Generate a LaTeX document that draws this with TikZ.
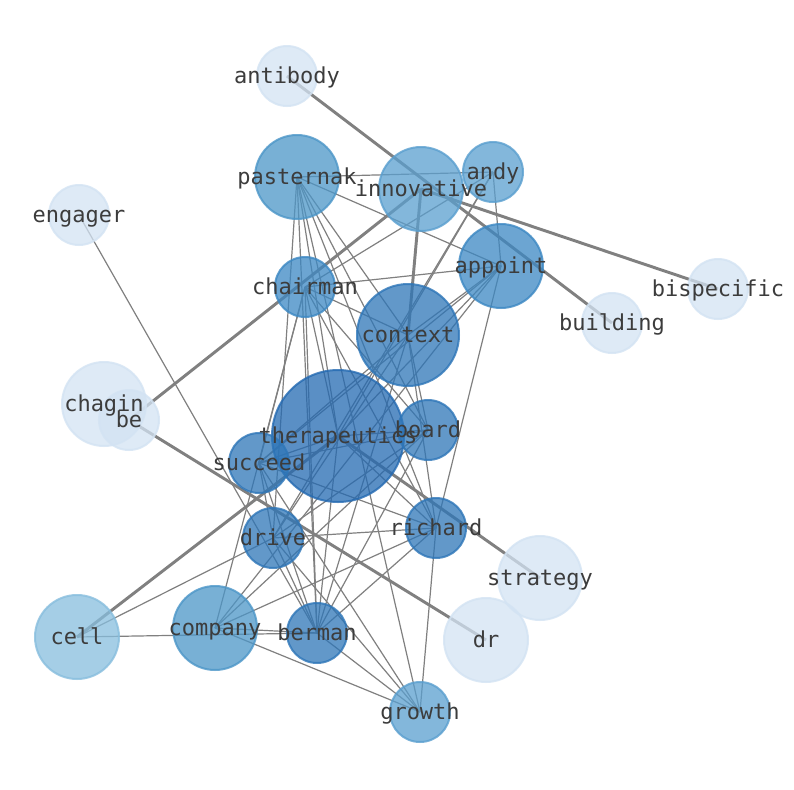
\documentclass[tikz,border=0pt]{standalone}
\usepackage{fontspec}
\setmonofont{DejaVu Sans Mono}
\usetikzlibrary{backgrounds}
\definecolor{c5}{HTML}{246AB2}
\definecolor{c4}{HTML}{2E76B8}
\definecolor{c3}{HTML}{3C88C3}
\definecolor{c2}{HTML}{4C96C8}
\definecolor{c1}{HTML}{5A9FCF}
\definecolor{cc}{HTML}{88BEDE}
\definecolor{cl}{HTML}{D3E3F3}
\definecolor{lblgray}{HTML}{3C3C3C}
\tikzset{
  n/.style={circle, inner sep=0, line width=1.5pt, fill opacity=0.75, draw opacity=0.8},
  s30/.style={minimum size=45pt},
  s42/.style={minimum size=63pt},
  s51/.style={minimum size=76.5pt},
  s66/.style={minimum size=99pt},
  w/.style={draw=gray, line width=0.9pt},
  ww/.style={draw=gray, line width=2.2pt},
  lbl/.style={anchor=base, inner sep=0, text=lblgray, font=\fontsize{16.5}{18}\selectfont\ttfamily}
}

\begin{document}
\begin{tikzpicture}[x=0.75pt, y=-0.75pt]
    \useasboundingbox (0,0) rectangle (794,790);
    % word nodes: name/x/y/radius/colour
    \foreach \name/\x/\y/\r/\col in {
      antibody/287/76/30/cl, pasternak/297/177/42/c2, innovative/421/189/42/c1,
      andy/493/172/30/c1, engager/79/215/30/cl, appoint/501/266/42/c3,
      chairman/305/287/30/c3, bispecific/718/289/30/cl, building/612/323/30/cl,
      context/408/335/51/c4, chagin/104/404/42/cl, be/129/420/30/cl,
      therapeutics/338/436/66/c5, board/428/430/30/c4, succeed/259/463/30/c4,
      richard/436/528/30/c4, drive/273/538/30/c4, strategy/540/578/42/cl,
      cell/77/637/42/cc, company/215/628/42/c2, berman/317/633/30/c4,
      dr/486/640/42/cl, growth/420/712/30/c1}
    {
      \node[n, s\r, fill=\col, draw=\col](\name) at (\x, \y) {};
    }

    \begin{pgfonlayer}{background}
      \fill[white] (0,0) rectangle (794,790);
      \foreach \a/\b in {
        pasternak/andy, pasternak/appoint, pasternak/context, pasternak/board,
        pasternak/richard, pasternak/therapeutics, pasternak/berman, pasternak/drive,
        pasternak/growth, andy/chairman, andy/appoint, andy/therapeutics, andy/drive,
        chairman/appoint, chairman/context, chairman/succeed, chairman/company,
        chairman/therapeutics, chairman/berman, chairman/richard, chairman/board,
        appoint/context, appoint/therapeutics, appoint/succeed, appoint/company,
        appoint/richard, context/board, context/richard, context/succeed,
        context/drive, context/berman, therapeutics/board, therapeutics/succeed,
        therapeutics/richard, therapeutics/berman, board/succeed, board/drive,
        board/company, board/berman, succeed/drive, succeed/berman, succeed/growth,
        succeed/richard, drive/richard, drive/berman, drive/growth, richard/company,
        richard/berman, richard/growth, company/berman, company/growth,
        berman/growth, cell/drive, cell/berman, engager/berman}
      {
        \draw[w] (\a.center) -- (\b.center);
      }
      \foreach \a/\b in {
        antibody/building, innovative/bispecific, be/innovative, be/dr,
        cell/therapeutics, therapeutics/strategy, innovative/context}
      {
        \draw[ww] (\a.center) -- (\b.center);
      }
    \end{pgfonlayer}

    % labels on top
    \foreach \name/\x/\y in {
      antibody/287/76, pasternak/297/177, innovative/421/189, andy/493/172,
      engager/79/215, appoint/501/266, chairman/305/287, bispecific/718/289,
      building/612/323, context/408/335, chagin/104/404, be/129/420,
      therapeutics/338/436, board/428/430, succeed/259/463, richard/436/528,
      drive/273/538, strategy/540/578, cell/77/637, company/215/628,
      berman/317/633, dr/486/640, growth/420/712}
    {
      \node[lbl] at (\x, \y+7) {\name};
    }
\end{tikzpicture}
\end{document}
